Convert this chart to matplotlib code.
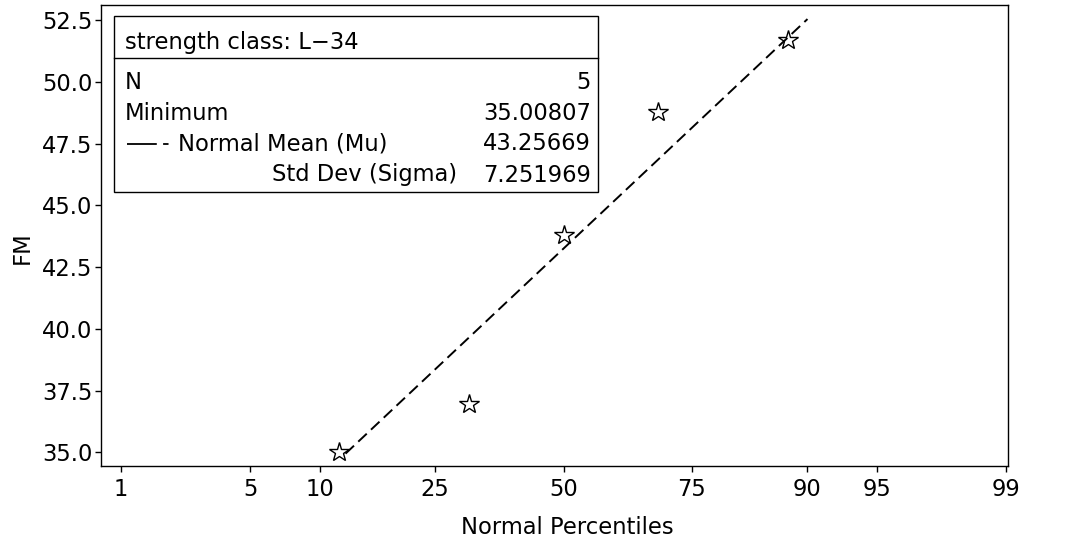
import matplotlib
matplotlib.use("Agg")
import matplotlib.pyplot as plt
from matplotlib.lines import Line2D
from matplotlib.patches import Rectangle
from statistics import NormalDist
import numpy as np

# ---- data ----
percentiles = [11.9, 31.0, 50.0, 69.0, 88.1]          # plotting positions (%)
fm_values = [35.008, 36.95, 43.80, 48.80, 51.72]      # FM
tick_pct = [1, 5, 10, 25, 50, 75, 90, 95, 99]
tick_labels = ["1", "5", "10", "25", "50", "75", "90", "95", "99"]
y_ticks = [35.0, 37.5, 40.0, 42.5, 45.0, 47.5, 50.0, 52.5]
mu = 43.25669
sigma = 7.251969
line_pct = [12.6, 90.0]
table_title = "strength class: L\u221234"
table_rows = [("N", "5"), ("Minimum", "35.00807"),
              ("Normal Mean (Mu)", "43.25669"), ("Std Dev (Sigma)", "7.251969")]

nd = NormalDist()
z = lambda p: nd.inv_cdf(p / 100.0)

W, H = 1066, 543
fig = plt.figure(figsize=(W / 100, H / 100), dpi=100)
plt.rcParams['font.family'] = ['DejaVu Sans']
FS = 16.3

# axes pixel box
L, R, T, B = 101, 1008, 5, 466
ax = fig.add_axes([L / W, 1 - B / H, (R - L) / W, (B - T) / H])

ax.plot([z(p) for p in percentiles], fm_values, linestyle='none', marker='*',
        markersize=15, markerfacecolor='none', markeredgecolor='black',
        markeredgewidth=1.0, zorder=3)

lz = np.array([z(p) for p in line_pct])
ax.plot(lz, mu + sigma * lz, color='black', lw=1.4, dashes=(6, 3), zorder=2)

ax.set_xlim(-2.43, 2.335)
ax.set_ylim(34.45, 53.12)
ax.set_xticks([z(p) for p in tick_pct])
ax.set_xticklabels(tick_labels, fontsize=FS)
ax.set_yticks(y_ticks)
ax.set_yticklabels([f"{v:.1f}" for v in y_ticks], fontsize=FS)
ax.tick_params(direction='out', length=4, width=1)
ax.tick_params(axis='y', pad=2)
ax.tick_params(axis='x', pad=5)
for s in ax.spines.values():
    s.set_linewidth(1.0)
ax.set_xlabel("Normal Percentiles", fontsize=FS)
ax.set_ylabel("FM", fontsize=FS)
ax.xaxis.set_label_coords((567 - L) / (R - L), (B - 527) / (B - T))
ax.xaxis.label.set_va('center')
ax.yaxis.set_label_coords((22 - L) / (R - L), (B - 248) / (B - T))
ax.yaxis.label.set_va('center')

# ---- inset table (pixel positions) ----
def fx(px):
    return px / W

def fy(py):
    return 1 - py / H

bl, br, bt, bd, bb = 114, 598, 16, 58, 192
fig.patches.append(Rectangle((fx(bl), fy(bb)), fx(br) - fx(bl), fy(bt) - fy(bb),
                             transform=fig.transFigure, fill=True, facecolor='white',
                             edgecolor='black', lw=1.0, zorder=5))
fig.lines.append(Line2D([fx(bl), fx(br)], [fy(bd), fy(bd)], transform=fig.transFigure,
                        color='black', lw=1.0, zorder=6))
fig.text(fx(125), fy(42), table_title, fontsize=FS, va='center', ha='left', zorder=7)

row_y = [83, 114, 144, 175]
for i, ((lab, val), ry) in enumerate(zip(table_rows, row_y)):
    if i < 2:
        fig.text(fx(125), fy(ry), lab, fontsize=FS, va='center', ha='left', zorder=7)
    elif i == 2:
        fig.lines.append(Line2D([fx(127), fx(169)], [fy(ry), fy(ry)],
                                transform=fig.transFigure, color='black', lw=1.3,
                                dashes=(16.5, 3.5, 3, 50), zorder=7))
        fig.text(fx(178), fy(ry), lab, fontsize=FS, va='center', ha='left', zorder=7)
    else:
        fig.text(fx(457), fy(ry), lab, fontsize=FS, va='center', ha='right', zorder=7)
    fig.text(fx(591), fy(ry), val, fontsize=FS, va='center', ha='right', zorder=7)

fig.savefig("out.png", dpi=100)
